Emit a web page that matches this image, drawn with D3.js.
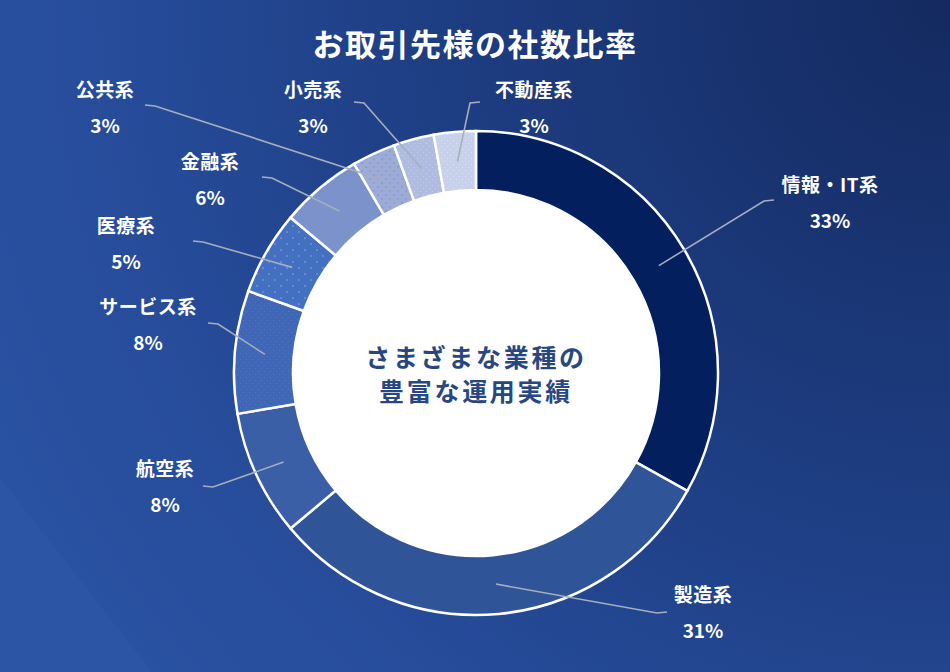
<!DOCTYPE html>
<html>
<head>
<meta charset="utf-8">
<script src="https://cdn.jsdelivr.net/npm/d3@7"></script>
<style>
  html, body { margin: 0; padding: 0; background: #1f3f85; }
  svg { display: block; }
  text { font-family: "Noto Sans CJK JP", "Noto Sans", sans-serif; }
</style>
</head>
<body>
<svg id="chart" width="950" height="672"></svg>
<script>
// ---- data ----
const title = "お取引先様の社数比率";
const centerLines = ["さまざまな業種の", "豊富な運用実績"];
const categories = ["情報・IT系", "製造系", "航空系", "サービス系", "医療系", "金融系", "公共系", "小売系", "不動産系"];
const shares = [33.1, 30.8, 8.4, 8.2, 5.6, 5.5, 2.9, 2.7, 2.8];
const percentLabels = ["33%", "31%", "8%", "8%", "5%", "6%", "3%", "3%", "3%"];

// ---- layout / styles (kept separate from data) ----
const W = 950, H = 672;
const cx = 476, cy = 373;
const rOuter = 242, rInner = 183, rLeader = 212;
// label text centre (tx,ty) and leader start (lx,ly), in page pixels
const labelLayout = [
  {tx: 830, ty: 183, lx: 774, ly: 200, side: -1},
  {tx: 703, ty: 593, lx: 667, ly: 612, side: -1},
  {tx: 165, ty: 467, lx: 203, ly: 486, side: 1},
  {tx: 148, ty: 305, lx: 208, ly: 323, side: 1},
  {tx: 126, ty: 224, lx: 193, ly: 241, side: 1},
  {tx: 210, ty: 160, lx: 262, ly: 177, side: 1},
  {tx: 105, ty: 88,  lx: 145, ly: 105, side: 1},
  {tx: 313, ty: 88,  lx: 354, ly: 102, side: 1},
  {tx: 534, ty: 88,  lx: 480, ly: 102, side: -1}
];
const fills = [
  {id: null, base: "#031f5e"},
  {id: null, base: "#2f5497"},
  {id: null, base: "#3a5fa7"},
  {id: "pServ", base: "#3f67b6", dot: "#5079c4", step: 3, r: 0.6},
  {id: "pMed", base: "#4470c1", dot: "#9bb0e0", step: 6, r: 0.75},
  {id: null, base: "#7b92ca"},
  {id: "pPub", base: "#9dacd7", dot: "#6c85c6", step: 4, r: 0.7},
  {id: "pRet", base: "#afbce0", dot: "#c9d2ec", step: 3, r: 0.6},
  {id: "pEst", base: "#c8d1ea", dot: "#dfe5f4", step: 3, r: 0.6}
];

const svg = d3.select("#chart");
const defs = svg.append("defs");

// background gradient
const bg = defs.append("radialGradient").attr("id", "bg")
  .attr("gradientUnits", "userSpaceOnUse")
  .attr("cx", W).attr("cy", 0).attr("r", 1050);
bg.append("stop").attr("offset", "0").attr("stop-color", "#142a60");
bg.append("stop").attr("offset", "0.45").attr("stop-color", "#1d3c80");
bg.append("stop").attr("offset", "0.8").attr("stop-color", "#264c9a");
bg.append("stop").attr("offset", "1").attr("stop-color", "#2a52a2");

svg.append("rect").attr("width", W).attr("height", H).attr("fill", "url(#bg)");
svg.append("path")
  .attr("d", d3.line()([[0, 478], [152, H], [0, H]]) + "Z")
  .attr("fill", "#3a68b8").attr("opacity", 0.18);

// patterns
fills.forEach(f => {
  if (!f.id) return;
  const p = defs.append("pattern").attr("id", f.id)
    .attr("patternUnits", "userSpaceOnUse")
    .attr("width", f.step * 2).attr("height", f.step * 2);
  p.append("rect").attr("width", f.step * 2).attr("height", f.step * 2).attr("fill", f.base);
  [[f.step * 0.5, f.step * 0.5], [f.step * 1.5, f.step * 1.5]].forEach(([x, y]) => {
    p.append("circle").attr("cx", x).attr("cy", y).attr("r", f.r).attr("fill", f.dot);
  });
});

// title
svg.append("text")
  .attr("x", W / 2).attr("y", 42)
  .attr("text-anchor", "middle").attr("dominant-baseline", "central")
  .attr("fill", "#ffffff").attr("font-size", 31).attr("font-weight", 700)
  .attr("letter-spacing", 1.5)
  .text(title);

const pie = d3.pie().sort(null).value(d => d).startAngle(0).endAngle(2 * Math.PI);
const arcs = pie(shares);
const arc = d3.arc().innerRadius(rInner).outerRadius(rOuter);
const leaderArc = d3.arc().innerRadius(rLeader).outerRadius(rLeader);

const g = svg.append("g").attr("transform", `translate(${cx},${cy})`);

g.selectAll("path.slice").data(arcs).join("path")
  .attr("class", "slice")
  .attr("d", arc)
  .attr("fill", (d, i) => fills[i].id ? `url(#${fills[i].id})` : fills[i].base)
  .attr("stroke", "#ffffff").attr("stroke-width", 2.5).attr("stroke-linejoin", "miter");

// inner white hole
g.append("circle").attr("r", rInner).attr("fill", "#ffffff");

// centre text
g.selectAll("text.center").data(centerLines).join("text")
  .attr("class", "center")
  .attr("x", 0).attr("y", (d, i) => -17 + i * 34)
  .attr("text-anchor", "middle").attr("dominant-baseline", "central")
  .attr("fill", "#284782").attr("font-size", 25).attr("font-weight", 700)
  .attr("letter-spacing", 2.7)
  .text(d => d);

// leader lines
svg.selectAll("path.leader").data(arcs).join("path")
  .attr("class", "leader")
  .attr("d", (d, i) => {
    const L = labelLayout[i];
    const c = leaderArc.centroid(d);
    return d3.line()([[L.lx, L.ly], [L.lx + L.side * 10, L.ly + 1], [cx + c[0], cy + c[1]]]);
  })
  .attr("fill", "none").attr("stroke", "#a7aebd").attr("stroke-width", 1.6);

// labels
const lab = svg.selectAll("g.label").data(categories).join("g").attr("class", "label");
lab.append("text")
  .attr("x", (d, i) => labelLayout[i].tx).attr("y", (d, i) => labelLayout[i].ty)
  .attr("text-anchor", "middle").attr("dominant-baseline", "central")
  .attr("fill", "#ffffff").attr("font-size", 19).attr("font-weight", 700)
  .attr("letter-spacing", 0.5)
  .text(d => d);
lab.append("text")
  .attr("x", (d, i) => labelLayout[i].tx).attr("y", (d, i) => labelLayout[i].ty + 36)
  .attr("text-anchor", "middle").attr("dominant-baseline", "central")
  .attr("fill", "#ffffff").attr("font-size", 19).attr("font-weight", 700)
  .text((d, i) => percentLabels[i]);
</script>
</body>
</html>
